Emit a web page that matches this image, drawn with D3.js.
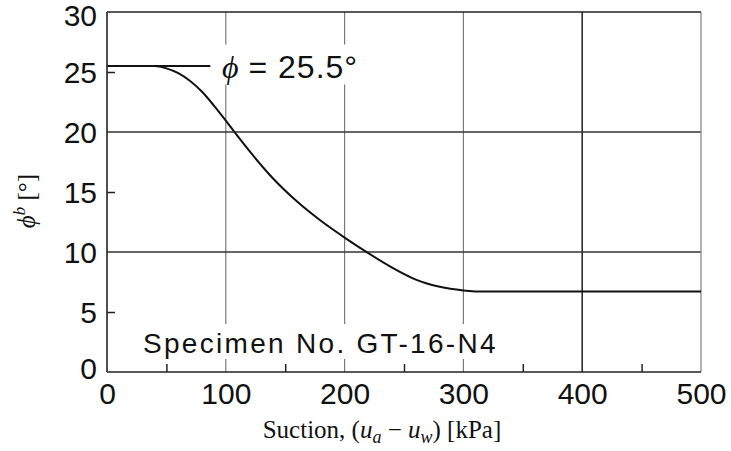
<!DOCTYPE html>
<html>
<head>
<meta charset="utf-8">
<script src="https://cdn.jsdelivr.net/npm/d3@7"></script>
<style>
  html, body { margin: 0; padding: 0; background: #fff; }
  svg { display: block; }
</style>
</head>
<body>
<svg id="chart" width="731" height="451"></svg>
<script>
// Suction (kPa) and friction angle phi^b (degrees) for specimen GT-16-N4
const suction = [0, 40, 50, 60, 70, 80, 90, 100, 110, 120, 140, 160, 180, 200, 220, 240, 260, 280, 300, 320, 500];
const phiB    = [25.5, 25.5, 25.3, 24.9, 24.25, 23.35, 22.2, 20.95, 19.65, 18.4, 16.1, 14.2, 12.6, 11.2, 9.9, 8.7, 7.7, 7.1, 6.8, 6.7, 6.7];

// Axis ticks
const xTickLabels = [0, 100, 200, 300, 400, 500];
const xMinorTicks = [50, 150, 250, 350, 450];
const yTickLabels = [0, 5, 10, 15, 20, 25, 30];
const yMinorTicks = [5, 15, 25];
const hGrid = [10, 20];
const vGridLight = [100, 200, 300];
const vGridDark = [400];

// Annotations
const phiAngle = 25.5;
const phiLeaderEnd = 87;
const specimenLabel = "Specimen No. GT-16-N4";

const svg = d3.select("#chart");
const W = 731, H = 451;
const margin = { left: 107, right: 30, top: 12, bottom: 79 };

const x = d3.scaleLinear().domain([0, 500]).range([margin.left, W - margin.right]);
const y = d3.scaleLinear().domain([0, 30]).range([H - margin.bottom, margin.top]);

const sans = "'Liberation Sans', Arial, Helvetica, sans-serif";
const serif = "'Liberation Serif', 'Times New Roman', Times, serif";

// Grid lines
const grid = svg.append("g");
grid.selectAll(".vl").data(vGridLight).join("line")
  .attr("x1", d => x(d)).attr("x2", d => x(d))
  .attr("y1", y(30)).attr("y2", y(0))
  .attr("stroke", "#7a7a7a").attr("stroke-width", 1.2);
grid.selectAll(".vd").data(vGridDark).join("line")
  .attr("x1", d => x(d)).attr("x2", d => x(d))
  .attr("y1", y(30)).attr("y2", y(0))
  .attr("stroke", "#222").attr("stroke-width", 1.5);
grid.selectAll(".h").data(hGrid).join("line")
  .attr("x1", x(0)).attr("x2", x(500))
  .attr("y1", d => y(d)).attr("y2", d => y(d))
  .attr("stroke", "#333").attr("stroke-width", 1.5);
// right frame edge
grid.append("line")
  .attr("x1", x(500)).attr("x2", x(500)).attr("y1", y(30)).attr("y2", y(0))
  .attr("stroke", "#888").attr("stroke-width", 1.3);
// top frame edge
grid.append("line")
  .attr("x1", x(0)).attr("x2", x(500)).attr("y1", y(30)).attr("y2", y(30))
  .attr("stroke", "#222").attr("stroke-width", 1.6);

// Annotation texts, each on a white box that interrupts the grid
const phiText = svg.append("text")
  .attr("x", 222).attr("y", y(phiAngle))
  .attr("dy", "0.36em")
  .attr("font-family", sans).attr("font-size", 32).attr("fill", "#111");
phiText.append("tspan").attr("font-family", serif).attr("font-style", "italic").text("\u03d5");
phiText.append("tspan").attr("letter-spacing", 1).text(" = " + phiAngle + "\u00b0");

const specText = svg.append("text")
  .attr("x", 143).attr("y", 353)
  .attr("font-family", sans).attr("font-size", 28)
  .attr("letter-spacing", 2.3).attr("fill", "#111")
  .text(specimenLabel);

[phiText, specText].forEach(t => {
  const b = t.node().getBBox();
  svg.insert("rect", "text")
    .attr("x", b.x - 6).attr("y", b.y - 4)
    .attr("width", b.width + 12).attr("height", b.height + 4)
    .attr("fill", "#fff");
});

// Leader line for the phi annotation
svg.append("line")
  .attr("x1", x(0)).attr("x2", x(phiLeaderEnd))
  .attr("y1", y(phiAngle)).attr("y2", y(phiAngle))
  .attr("stroke", "#111").attr("stroke-width", 1.8);

// Curve
const pts = suction.map((s, i) => [s, phiB[i]]);
svg.append("path")
  .datum(pts)
  .attr("fill", "none")
  .attr("stroke", "#111")
  .attr("stroke-width", 2)
  .attr("d", d3.line().x(d => x(d[0])).y(d => y(d[1])).curve(d3.curveMonotoneX));

// Axes: labels
const yAxis = svg.append("g")
  .attr("transform", `translate(${x(0)},0)`)
  .call(d3.axisLeft(y).tickValues(yTickLabels).tickSize(0).tickPadding(10).tickFormat(d3.format("d")));
yAxis.select(".domain").remove();
yAxis.selectAll("text")
  .attr("font-family", sans).attr("font-size", 30).attr("fill", "#111")
  .attr("dy", d => d === 0 ? "0.2em" : d === 30 ? "0.44em" : "0.34em");

const xAxis = svg.append("g")
  .attr("transform", `translate(0,${y(0)})`)
  .call(d3.axisBottom(x).tickValues(xTickLabels).tickSize(0).tickPadding(11).tickFormat(d3.format("d")));
xAxis.select(".domain").remove();
xAxis.selectAll("text")
  .attr("font-family", sans).attr("font-size", 30).attr("fill", "#111");

// Inward minor ticks
const yMinor = svg.append("g")
  .attr("transform", `translate(${x(0)},0)`)
  .call(d3.axisRight(y).tickValues(yMinorTicks).tickSize(8).tickFormat(""));
yMinor.select(".domain").remove();
yMinor.selectAll("line").attr("stroke", "#222").attr("stroke-width", 1.5);

const xMinor = svg.append("g")
  .attr("transform", `translate(0,${y(0)})`)
  .call(d3.axisTop(x).tickValues(xMinorTicks).tickSize(8).tickFormat(""));
xMinor.select(".domain").remove();
xMinor.selectAll("line").attr("stroke", "#222").attr("stroke-width", 1.5);

// Left and bottom frame
svg.append("line")
  .attr("x1", x(0)).attr("x2", x(0)).attr("y1", y(30)).attr("y2", y(0))
  .attr("stroke", "#222").attr("stroke-width", 1.6);
svg.append("line")
  .attr("x1", x(0)).attr("x2", x(500)).attr("y1", y(0)).attr("y2", y(0))
  .attr("stroke", "#222").attr("stroke-width", 1.6);

// Axis titles
const xTitle = svg.append("text")
  .attr("x", 382).attr("y", 438)
  .attr("text-anchor", "middle")
  .attr("font-family", serif).attr("font-size", 25).attr("fill", "#111");
xTitle.append("tspan").text("Suction, (");
xTitle.append("tspan").attr("font-style", "italic").text("u");
xTitle.append("tspan").attr("font-style", "italic").attr("font-size", 18).attr("dy", 5).text("a");
xTitle.append("tspan").attr("dy", -5).text(" \u2212 ");
xTitle.append("tspan").attr("font-style", "italic").text("u");
xTitle.append("tspan").attr("font-style", "italic").attr("font-size", 18).attr("dy", 5).text("w");
xTitle.append("tspan").attr("dy", -5).text(") [kPa]");

const yTitle = svg.append("text")
  .attr("transform", "translate(35,201) rotate(-90)")
  .attr("text-anchor", "middle")
  .attr("font-family", serif).attr("font-size", 25).attr("fill", "#111");
yTitle.append("tspan").attr("font-style", "italic").text("\u03d5");
yTitle.append("tspan").attr("font-style", "italic").attr("font-size", 17).attr("dy", -10).text("b");
yTitle.append("tspan").attr("dy", 10).text(" [\u00b0]");
</script>
</body>
</html>
